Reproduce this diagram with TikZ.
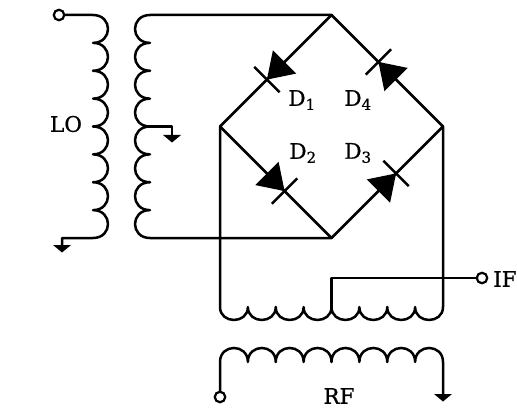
\documentclass[tikz,border=0pt]{standalone}
\usepackage{fontspec}
\setmainfont{DejaVu Serif}
\newfontfamily\lblfont{DejaVu Serif}[FakeBold=0.8]
\usetikzlibrary{calc}
\begin{document}
\begin{tikzpicture}[x=1pt,y=-1pt,
  wire/.style={line width=2.5pt, line join=round, line cap=round},
  terminal/.style={circle, draw, line width=2.2pt, fill=white, minimum size=10.5pt, inner sep=0pt},
  lbl/.style={font=\lblfont\fontsize{21.5}{25}\selectfont, inner sep=0pt},
  diode/.pic={
    \fill (-12.5pt,16.5pt) -- (12.5pt,0pt) -- (-12.5pt,-16.5pt) -- cycle;
    \draw[line width=2.5pt] (12.5pt,-18pt) -- (12.5pt,18pt);
  },
  ground/.pic={
    \fill (-9pt,0pt) -- (9pt,0pt) -- (0pt,-7.5pt) -- cycle;
  }
]
\useasboundingbox (0,0) rectangle (517,409);

% bridge corners
\coordinate (T) at (331.5,15);
\coordinate (L) at (220,126.5);
\coordinate (R) at (443,126.5);
\coordinate (B) at (331.5,238);

% LO winding
\node[terminal] (lo) at (59,15) {};
\draw[wire] (lo) -- (93,15)
  \foreach \k in {1,...,8}{ .. controls +(20,0) and +(20,0) .. ++(0,27.875) }
  -- (62,238) -- (62,245) coordinate (glo);
\pic at (glo) {ground};
\node[lbl] (lolbl) at (66,124) {LO};

% centre-tapped secondary feeding the bridge
\draw[wire] (T) -- (150,15)
  \foreach \k in {1,...,8}{ .. controls +(-20,0) and +(-20,0) .. ++(0,27.875) }
  -- (B);
\coordinate (tap) at (150,126.5);
\draw[wire] (tap) -- (172,126.5) -- (172,135) coordinate (gtap);
\pic at (gtap) {ground};

% diode ring
\draw[wire] (T) -- (L) -- (B) -- (R) -- cycle;
\pic[rotate=225] at ($(T)!0.5!(L)$) {diode};
\pic[rotate=135] at ($(R)!0.5!(T)$) {diode};
\pic[rotate=-45] at ($(L)!0.5!(B)$) {diode};
\pic[rotate=45]  at ($(B)!0.5!(R)$) {diode};
\node[lbl] (d1) at (302,100) {D\textsubscript{1}};
\node[lbl] (d4) at (358,100) {D\textsubscript{4}};
\node[lbl] (d2) at (303,153) {D\textsubscript{2}};
\node[lbl] (d3) at (358,153) {D\textsubscript{3}};

% IF winding with centre tap
\draw[wire] (L) -- (220,307)
  \foreach \k in {1,...,8}{ .. controls +(0,17.3) and +(0,17.3) .. ++(27.875,0) }
  -- (R);
\node[terminal] (ifT) at (482,278) {};
\coordinate (ctap) at (331.5,307);
\draw[wire] (ctap) -- (331.5,278) -- (ifT);
\node[lbl, anchor=west] (iflbl) at (493,279) {IF};

% RF winding
\node[terminal] (rfT) at (220,397) {};
\draw[wire] (rfT) -- (220,362)
  \foreach \k in {1,...,8}{ .. controls +(0,-18.7) and +(0,-18.7) .. ++(27.875,0) }
  -- (443,394) coordinate (grf);
\pic at (grf) {ground};
\node[lbl] (rflbl) at (339,396) {RF};
\end{tikzpicture}
\end{document}
